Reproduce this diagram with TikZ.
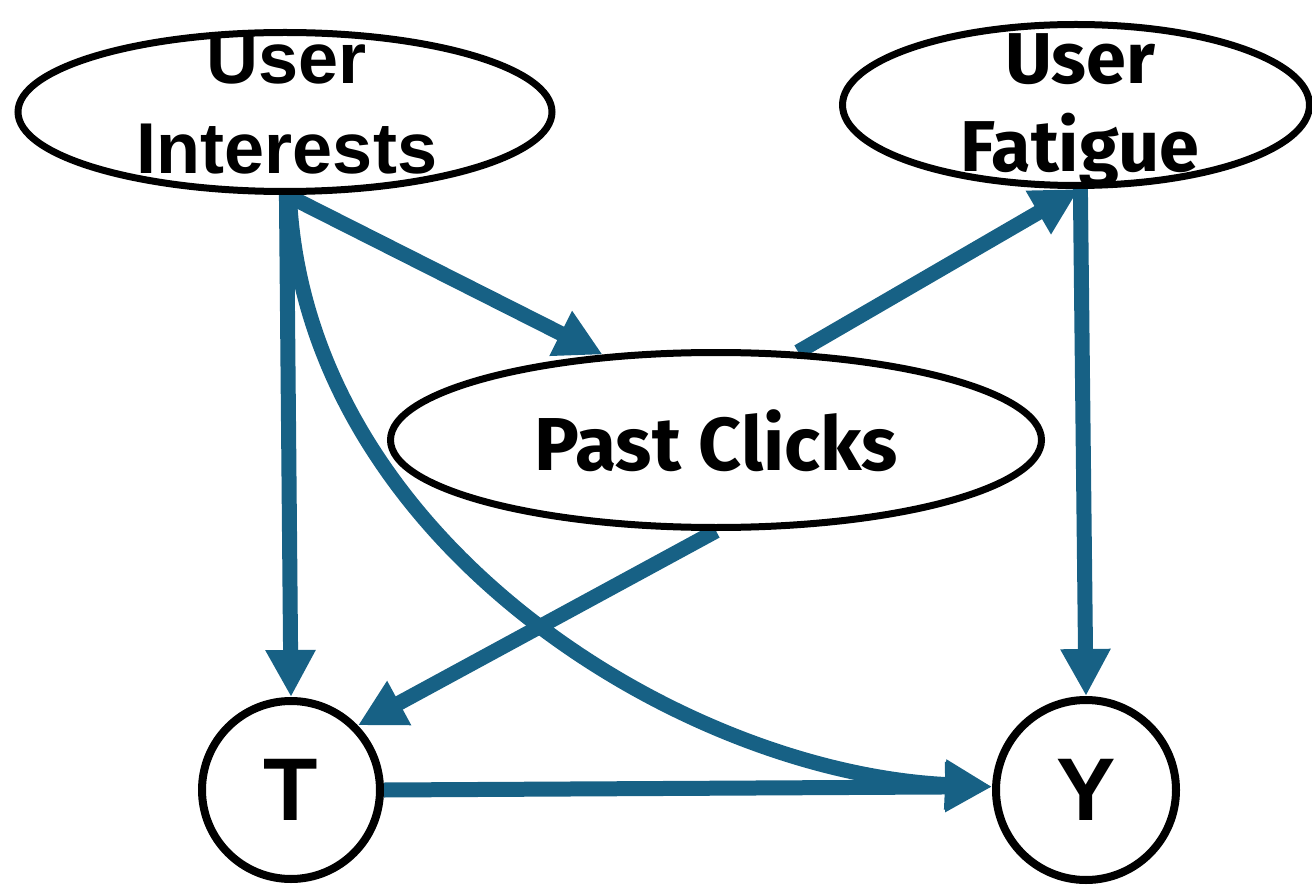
\documentclass[tikz,border=0pt]{standalone}
\usepackage{fontspec}
\setmainfont{Liberation Sans}
\newfontfamily\altsans{Fira Sans}
\usetikzlibrary{arrows.meta,shapes.geometric,backgrounds}

\definecolor{edgeblue}{RGB}{23,97,133}

\begin{document}
\begin{tikzpicture}[x=1pt,y=-1pt,
  latent/.style={ellipse, draw=black, line width=7pt, fill=white, inner sep=0pt},
  observed/.style={circle, draw=black, line width=8pt, fill=white,
    minimum size=178pt, inner sep=0pt,
    font=\fontsize{89}{89}\selectfont\bfseries},
  title/.style={align=center, inner sep=0pt},
  causal/.style={draw=edgeblue, line width=15pt,
    -{Triangle[length=47pt,width=47pt]}}]

\useasboundingbox (0,0) rectangle (1312,885);

% latent and observed variables
\node[latent, minimum width=534pt, minimum height=159pt] (ui) at (285,112) {};
\node[title, font=\fontsize{72}{90}\selectfont\bfseries] (uitext) at (287,104) {User\\Interests};

\node[latent, minimum width=467pt, minimum height=161pt] (uf) at (1076,105) {};
\node[title, font=\altsans\fontsize{72}{88}\selectfont\bfseries] (uftext) at (1080,111) {User\\Fatigue};

\node[latent, minimum width=651pt, minimum height=175pt] (pc) at (716,440) {};
\node[title, font=\altsans\fontsize{75}{75}\selectfont\bfseries] (pctext) at (716,441) {Past Clicks};

\node[observed] (t) at (291,790) {T};
\node[observed, minimum size=180pt] (y) at (1086,790) {Y};

% causal edges, kept behind the variables
\begin{scope}[on background layer]
  \draw[causal] (ui.-89) -- (t.north);
  \draw[causal] (ui.-89) -- (pc.143);
  \draw[causal] (ui.-87) .. controls (305,540) and (680,772) .. (y.178);
  \draw[causal] (pc.47) -- (uf.-88);
  \draw[causal] (uf.-87) -- (y.north);
  \draw[causal] (pc.south) -- (t.44);
  \draw[causal] (t.east) -- (y.178);
\end{scope}

\end{tikzpicture}
\end{document}
